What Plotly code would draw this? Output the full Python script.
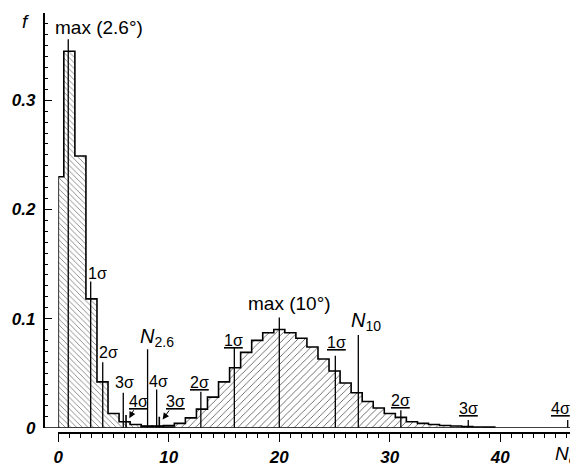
import plotly.graph_objects as go

# ---------------- data ----------------
# distribution for 2.6 deg (bins centred on integer N)
n1 = [0, 1, 2, 3, 4, 5, 6, 7, 8, 9, 10]
f1 = [0.230, 0.345, 0.249, 0.118, 0.042, 0.013, 0.0055, 0.003, 0.0015, 0.001, 0.0005]

# distribution for 10 deg
n2 = list(range(8, 40))
f2 = [0.001, 0.0015, 0.002, 0.004, 0.009, 0.017, 0.028, 0.042, 0.055, 0.069,
      0.080, 0.087, 0.090, 0.087, 0.082, 0.074, 0.063, 0.052, 0.041, 0.032,
      0.024, 0.018, 0.013, 0.0095, 0.0055, 0.004, 0.003, 0.002, 0.0015, 0.001,
      0.0007, 0.0005]

# marker lines for 2.6 deg
m1_labels = ["max (2.6°)", "1σ", "2σ", "3σ", "4σ"]
m1_x = [0.9, 2.93, 4.02, 5.88, 8.9]
m1_top = [0.356, 0.134, 0.060, 0.032, 0.035]

# marker lines for 10 deg
m2_labels = ["max (10°)", "1σ", "2σ", "1σ", "2σ", "3σ", "4σ"]
m2_x = [20.0, 15.93, 12.9, 25.07, 31.0, 37.1, 46.1]
m2_top = [0.101, 0.073, 0.033, 0.066, 0.016, 0.007, 0.007]

# far-left sigma levels of 10 deg (short ticks with arrows)
m2a_labels = ["4σ", "3σ"]
m2a_x = [6.13, 9.14]
m2a_top = [0.0116, 0.010]

# N markers
nm_labels = ["<i>N</i><sub>2.6</sub>", "<i>N</i><sub>10</sub>"]
nm_x = [8.08, 27.15]
nm_top = [0.072, 0.085]

x_ticks = [0, 5, 10, 15, 20, 25, 30, 35, 40, 45]
x_ticktext = ["0", "", "10", "", "20", "", "30", "", "40", ""]
x_minor = list(range(0, 47))
y_ticks = [0, 0.05, 0.1, 0.15, 0.2, 0.25, 0.3, 0.35]
y_ticktext = ["0", "", "0.1", "", "0.2", "", "0.3", ""]
y_minor = [i / 100 for i in range(0, 39)]

# ---------------- styling ----------------
FONT = "Liberation Sans"
OFF = 8                      # page body margin
W, H = 578 - OFF, 464 - OFF  # figure size


def px(xp):
    return (xp - OFF) / W


def py(yp):
    return 1 - (yp - OFF) / H


# label offsets in pixels (dx, dy) relative to top of each marker line
m1_off = [(31, 12), (7, 8), (6, 10), (1, 10), (2, 8)]
m2_off = [(10, 14), (-1, 8), (-1.5, 9), (1, 13), (0, 10), (0, 12), (-7, 12)]
nm_off = [(9, 12), (8, 13)]
m2a_off = [(9, -17), (13, -18)]


def step_xy(centers, vals):
    edges = [max(c - 0.5, 0) for c in centers] + [centers[-1] + 0.5]
    xs = [edges[0]] + edges[:-1] + [edges[-1]]
    ys = [0] + list(vals) + [0]
    return xs, ys


fig = go.Figure()

for cen, val, shp, sz in [(n1, f1, "\\", 4), (n2, f2, "/", 5)]:
    xs, ys = step_xy(cen, val)
    fig.add_trace(go.Scatter(
        x=xs, y=ys, mode="lines", line=dict(shape="hv", color="black", width=1.6),
        fill="tozeroy", fillcolor="rgba(0,0,0,0)",
        fillpattern=dict(shape=shp, size=sz, solidity=0.15, fgcolor="#444",
                         bgcolor="rgba(0,0,0,0)", fillmode="replace"),
        hoverinfo="skip", showlegend=False))


def vlines(xv, tv, width=1.3):
    xs, ys = [], []
    for a, b in zip(xv, tv):
        xs += [a, a, None]
        ys += [0, b, None]
    fig.add_trace(go.Scatter(x=xs, y=ys, mode="lines",
                             line=dict(color="black", width=width),
                             hoverinfo="skip", showlegend=False, cliponaxis=False))


vlines(m1_x, m1_top)
vlines(m2_x, m2_top)
vlines(m2a_x, m2a_top, 1.6)
vlines(nm_x, nm_top)

ann = []


def label(x, y, text, off, size):
    ann.append(dict(x=x, y=y, xref="x", yref="y", text=text, showarrow=False,
                    xanchor="center", yanchor="middle", xshift=off[0], yshift=off[1],
                    font=dict(family=FONT, size=size, color="black")))


for i, t in enumerate(m1_labels):
    label(m1_x[i], m1_top[i], t, m1_off[i], 19 if i == 0 else 16)
for i, t in enumerate(m2_labels):
    label(m2_x[i], m2_top[i], t if i == 0 else "<u>" + t + "</u>", m2_off[i], 19 if i == 0 else 16)
for i, t in enumerate(nm_labels):
    label(nm_x[i], nm_top[i], t, nm_off[i], 20)
for i, t in enumerate(m2a_labels):
    ann.append(dict(x=m2a_x[i] + 0.3, y=m2a_top[i] * 0.75, xref="x", yref="y",
                    text="<u>" + t + "</u>", showarrow=True, arrowhead=2, arrowsize=1.3,
                    arrowwidth=1, arrowcolor="black", ax=m2a_off[i][0], ay=m2a_off[i][1],
                    axref="pixel", ayref="pixel", standoff=0, startstandoff=0,
                    borderpad=0, font=dict(family=FONT, size=16, color="black")))

# axis titles
ann.append(dict(x=px(25), y=py(21), xref="paper", yref="paper", text="<i>f</i>",
                showarrow=False, xanchor="center", yanchor="middle",
                font=dict(family=FONT, size=19, color="black")))
ann.append(dict(x=px(553), y=py(455), xref="paper", yref="paper",
                text="<i>N</i><sub><i>φ</i></sub>", showarrow=False, xanchor="left",
                yanchor="middle", font=dict(family=FONT, size=19, color="black")))

x0_px = 58.3        # pixel of N = 0
unit_px = 11.05     # pixels per unit N

tickfont = dict(family=FONT, size=17, color="black", weight="bold", style="italic")

fig.update_layout(
    width=W, height=H, autosize=False,
    margin=dict(l=0, r=0, t=0, b=0, autoexpand=False),
    paper_bgcolor="white", plot_bgcolor="white",
    annotations=ann,
    shapes=[dict(type="line", xref="paper", yref="y", x0=px(43.5), x1=1, y0=0, y1=0,
                 line=dict(color="black", width=1.6))],
    xaxis=dict(domain=[px(x0_px), 1], range=[0, (578 - x0_px) / unit_px], anchor="free",
               position=py(432.5), showline=True, linecolor="black", linewidth=1.5,
               ticks="outside", ticklen=9, tickwidth=1.3, tickcolor="black",
               tickmode="array", tickvals=x_ticks, ticktext=x_ticktext,
               minor=dict(tickmode="array", tickvals=x_minor, ticks="outside", ticklen=5,
                          tickwidth=1, tickcolor="black", showgrid=False),
               showgrid=False, zeroline=False, automargin=False,
               ticklabelstandoff=0, tickfont=tickfont),
    yaxis=dict(domain=[py(427.7), py(13)], range=[0, 0.38], anchor="free",
               position=px(43.5), showline=True, linecolor="black", linewidth=1.5,
               ticks="inside", ticklen=8, tickwidth=1.3, tickcolor="black",
               tickmode="array", tickvals=y_ticks, ticktext=y_ticktext,
               minor=dict(tickmode="array", tickvals=y_minor, ticks="inside", ticklen=4,
                          tickwidth=1, tickcolor="black", showgrid=False),
               showgrid=False, zeroline=False, automargin=False,
               ticklabelstandoff=4, tickfont=tickfont),
)

fig.write_html("out.html")
